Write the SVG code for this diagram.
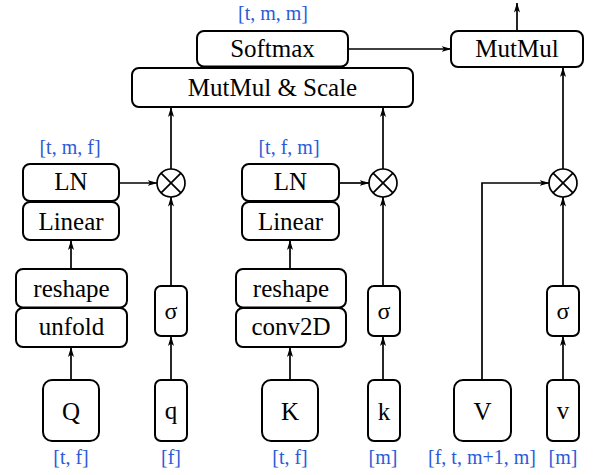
<svg xmlns="http://www.w3.org/2000/svg" width="594" height="475" viewBox="0 0 594 475">
<defs>
<marker id="arr" viewBox="0 0 10 8" refX="9.5" refY="4" markerWidth="10" markerHeight="8" markerUnits="userSpaceOnUse" orient="auto">
<path d="M0,1 L10,4 L0,7 L2.5,4 Z" fill="#000"/>
</marker>
<style>
.box{fill:#fff;stroke:#000;stroke-width:2}
.t{font-family:"Liberation Serif","Times New Roman",serif;font-size:25px;fill:#000;text-anchor:middle}
.s{font-family:"Liberation Serif","Times New Roman",serif;font-size:24px;fill:#000;text-anchor:middle}
.lbl{font-family:"Liberation Serif","Times New Roman",serif;font-size:20px;fill:#2a5bd7;text-anchor:middle}
.c{fill:none;stroke:#000;stroke-width:1.7}
.ln{fill:none;stroke:#000;stroke-width:1.7}
</style>
</defs>
<rect width="594" height="475" fill="#fff"/>

<g id="connectors">
<line class="ln" x1="71" y1="380" x2="71" y2="347.5" marker-end="url(#arr)"/>
<line class="ln" x1="71" y1="269" x2="71" y2="240.5" marker-end="url(#arr)"/>
<line class="ln" x1="119" y1="183" x2="157" y2="183" marker-end="url(#arr)"/>
<line class="ln" x1="171" y1="380" x2="171" y2="336.5" marker-end="url(#arr)"/>
<line class="ln" x1="171" y1="286" x2="171" y2="197" marker-end="url(#arr)"/>
<line class="ln" x1="171" y1="169" x2="171" y2="107.5" marker-end="url(#arr)"/>
<line class="ln" x1="290" y1="380" x2="290" y2="347.5" marker-end="url(#arr)"/>
<line class="ln" x1="290" y1="269" x2="290" y2="240.5" marker-end="url(#arr)"/>
<line class="ln" x1="339" y1="183" x2="369" y2="183" marker-end="url(#arr)"/>
<line class="ln" x1="383" y1="380" x2="383" y2="336.5" marker-end="url(#arr)"/>
<line class="ln" x1="383" y1="286" x2="383" y2="197" marker-end="url(#arr)"/>
<line class="ln" x1="383" y1="169" x2="383" y2="107.5" marker-end="url(#arr)"/>
<line class="ln" x1="348" y1="49" x2="451" y2="49" marker-end="url(#arr)"/>
<line class="ln" x1="517" y1="31" x2="517" y2="3" marker-end="url(#arr)"/>
<polyline class="ln" points="482,380 482,183 549,183" marker-end="url(#arr)"/>
<line class="ln" x1="563" y1="380" x2="563" y2="336.5" marker-end="url(#arr)"/>
<line class="ln" x1="563" y1="286" x2="563" y2="197" marker-end="url(#arr)"/>
<line class="ln" x1="563" y1="169" x2="563" y2="67.5" marker-end="url(#arr)"/>
</g>

<g id="softmax"><rect class="box" x="197" y="31" width="151" height="35.5" rx="7"/><text class="t" x="272.5" y="57">Softmax</text></g>
<g id="mutmul-scale"><rect class="box" x="132" y="68" width="281" height="39" rx="7"/><text class="t" x="272.5" y="96">MutMul &amp; Scale</text></g>
<g id="mutmul"><rect class="box" x="451" y="31" width="132" height="36" rx="7"/><text class="t" x="517" y="57">MutMul</text></g>
<g id="label-tmm"><text class="lbl" x="273" y="20">[t, m, m]</text></g>

<g id="ln-q"><rect class="box" x="23" y="164" width="96" height="37" rx="7"/><text class="t" x="71" y="190">LN</text></g>
<g id="linear-q"><rect class="box" x="23" y="202" width="96" height="38" rx="7"/><text class="t" x="71" y="229.5">Linear</text></g>
<g id="label-tmf"><text class="lbl" x="70" y="154">[t, m, f]</text></g>
<g id="reshape-q"><rect class="box" x="16" y="269" width="111" height="38.5" rx="7"/><text class="t" x="71.5" y="297">reshape</text></g>
<g id="unfold"><rect class="box" x="16" y="308" width="111" height="39" rx="7"/><text class="t" x="71.5" y="335">unfold</text></g>
<g id="Q"><rect class="box" x="43" y="380" width="56" height="61" rx="9"/><text class="t" x="71" y="419.5">Q</text></g>
<g id="label-Q"><text class="lbl" x="71" y="464">[t, f]</text></g>
<g id="sigma-q"><rect class="box" x="155" y="286" width="32" height="50" rx="6"/><text class="s" x="171" y="319">σ</text></g>
<g id="q"><rect class="box" x="155" y="380" width="32" height="61" rx="6"/><text class="t" x="171" y="419">q</text></g>
<g id="label-q"><text class="lbl" x="171" y="464">[f]</text></g>
<g id="mul-q"><circle class="c" cx="171" cy="183" r="14"/><path class="c" d="M161.1,173.1 L180.9,192.9 M180.9,173.1 L161.1,192.9"/></g>

<g id="ln-k"><rect class="box" x="242" y="164" width="97" height="37" rx="7"/><text class="t" x="290.5" y="190">LN</text></g>
<g id="linear-k"><rect class="box" x="242" y="202" width="97" height="38" rx="7"/><text class="t" x="290.5" y="229.5">Linear</text></g>
<g id="label-tfm"><text class="lbl" x="289" y="154">[t, f, m]</text></g>
<g id="reshape-k"><rect class="box" x="236" y="269" width="110" height="38.5" rx="7"/><text class="t" x="291" y="297">reshape</text></g>
<g id="conv2d"><rect class="box" x="236" y="308" width="110" height="39" rx="7"/><text class="t" x="291" y="335">conv2D</text></g>
<g id="K"><rect class="box" x="262" y="380" width="56" height="61" rx="9"/><text class="t" x="290" y="419.5">K</text></g>
<g id="label-K"><text class="lbl" x="290" y="464">[t, f]</text></g>
<g id="sigma-k"><rect class="box" x="368" y="286" width="32" height="50" rx="6"/><text class="s" x="384" y="319">σ</text></g>
<g id="k"><rect class="box" x="368" y="380" width="32" height="61" rx="6"/><text class="t" x="384" y="419.5">k</text></g>
<g id="label-k"><text class="lbl" x="383" y="464">[m]</text></g>
<g id="mul-k"><circle class="c" cx="383" cy="183" r="14"/><path class="c" d="M373.1,173.1 L392.9,192.9 M392.9,173.1 L373.1,192.9"/></g>

<g id="V"><rect class="box" x="454" y="380" width="57" height="61" rx="9"/><text class="t" x="482.5" y="419.5">V</text></g>
<g id="label-V"><text class="lbl" x="482" y="464">[f, t, m+1, m]</text></g>
<g id="sigma-v"><rect class="box" x="547" y="286" width="32" height="50" rx="6"/><text class="s" x="563" y="319">σ</text></g>
<g id="v"><rect class="box" x="547" y="380" width="32" height="61" rx="6"/><text class="t" x="563" y="419">v</text></g>
<g id="label-v"><text class="lbl" x="563" y="464">[m]</text></g>
<g id="mul-v"><circle class="c" cx="563" cy="183" r="14"/><path class="c" d="M553.1,173.1 L572.9,192.9 M572.9,173.1 L553.1,192.9"/></g>
</svg>
